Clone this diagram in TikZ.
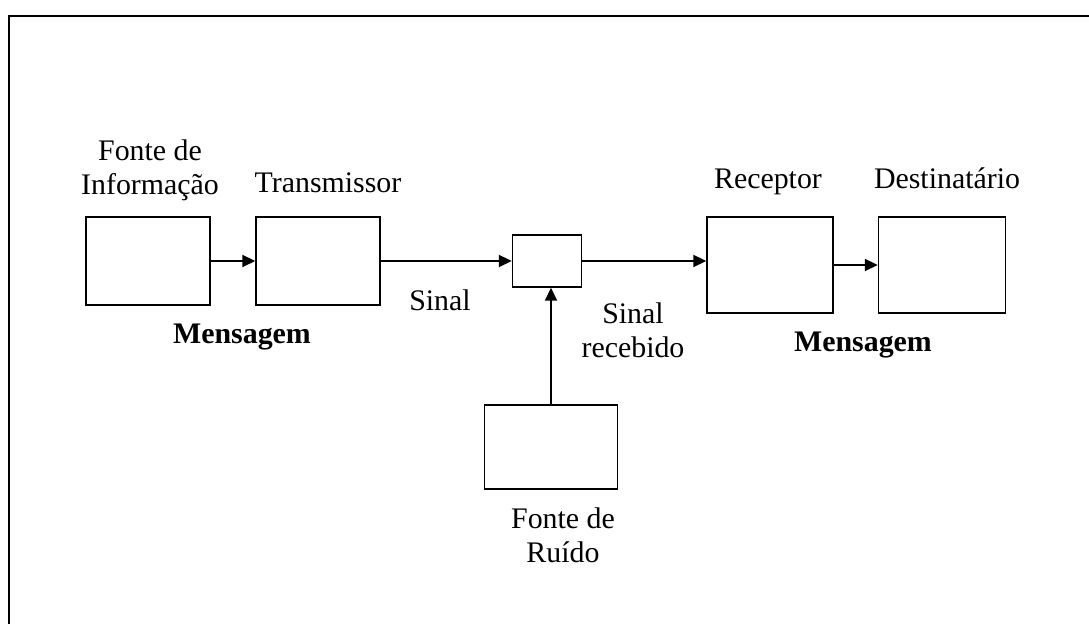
\documentclass[tikz,border=0pt]{standalone}
\usepackage{fontspec}
\setmainfont{Liberation Serif}
\usetikzlibrary{arrows.meta}

\tikzset{
  bloco/.style={draw, line width=0.85pt, inner sep=0pt},
  rotulo/.style={font=\fontsize{17}{19.5}\selectfont, align=center, inner sep=0pt},
  seta/.style={-{Triangle[length=0.26cm,width=0.24cm]}, line width=1.2pt}
}

\begin{document}
\begin{tikzpicture}[x=0.02cm, y=-0.02cm]
    \useasboundingbox (0,0) rectangle (1089,624);
    \draw[line width=1.3pt] (9,624) -- (9,16) -- (1089,16);
    % blocos
    \node (fonte) at (148,261) [bloco, minimum width=2.48cm, minimum height=1.76cm] {};
    \node (trans) at (318,261) [bloco, minimum width=2.48cm, minimum height=1.76cm] {};
    \node (canal) at (547,261) [bloco, minimum width=1.38cm, minimum height=1.04cm] {};
    \node (recep) at (770,265) [bloco, minimum width=2.52cm, minimum height=1.92cm] {};
    \node (dest) at (942,265) [bloco, minimum width=2.54cm, minimum height=1.92cm] {};
    \node (ruido) at (551,447) [bloco, minimum width=2.66cm, minimum height=1.68cm] {};
    % setas
    \draw[seta] (fonte.east) -- (trans.west);
    \draw[seta] (trans.east) -- (canal.west);
    \draw[seta] (canal.east) -- (canal.east -| recep.west);
    \draw[seta] (recep.east) -- (dest.west);
    \draw[seta] (ruido.north) -- (ruido.north |- canal.south);
    % textos
    \node (tfonte) at (150,170) [rotulo] {Fonte de\\Informação};
    \node (ttrans) at (328,183) [rotulo] {Transmissor};
    \node (msg1) at (242,337) [rotulo, font=\fontsize{17}{19.5}\selectfont\bfseries] {Mensagem};
    \node (sinal) at (440,300) [rotulo] {Sinal};
    \node (sinalrec) at (633,330) [rotulo] {Sinal\\recebido};
    \node (trecep) at (768,182) [rotulo] {Receptor};
    \node (tdest) at (947,178) [rotulo] {Destinatário};
    \node (msg2) at (863,345) [rotulo, font=\fontsize{17}{19.5}\selectfont\bfseries] {Mensagem};
    \node (truido) at (563,535) [rotulo] {Fonte de\\Ruído};
\end{tikzpicture}
\end{document}
